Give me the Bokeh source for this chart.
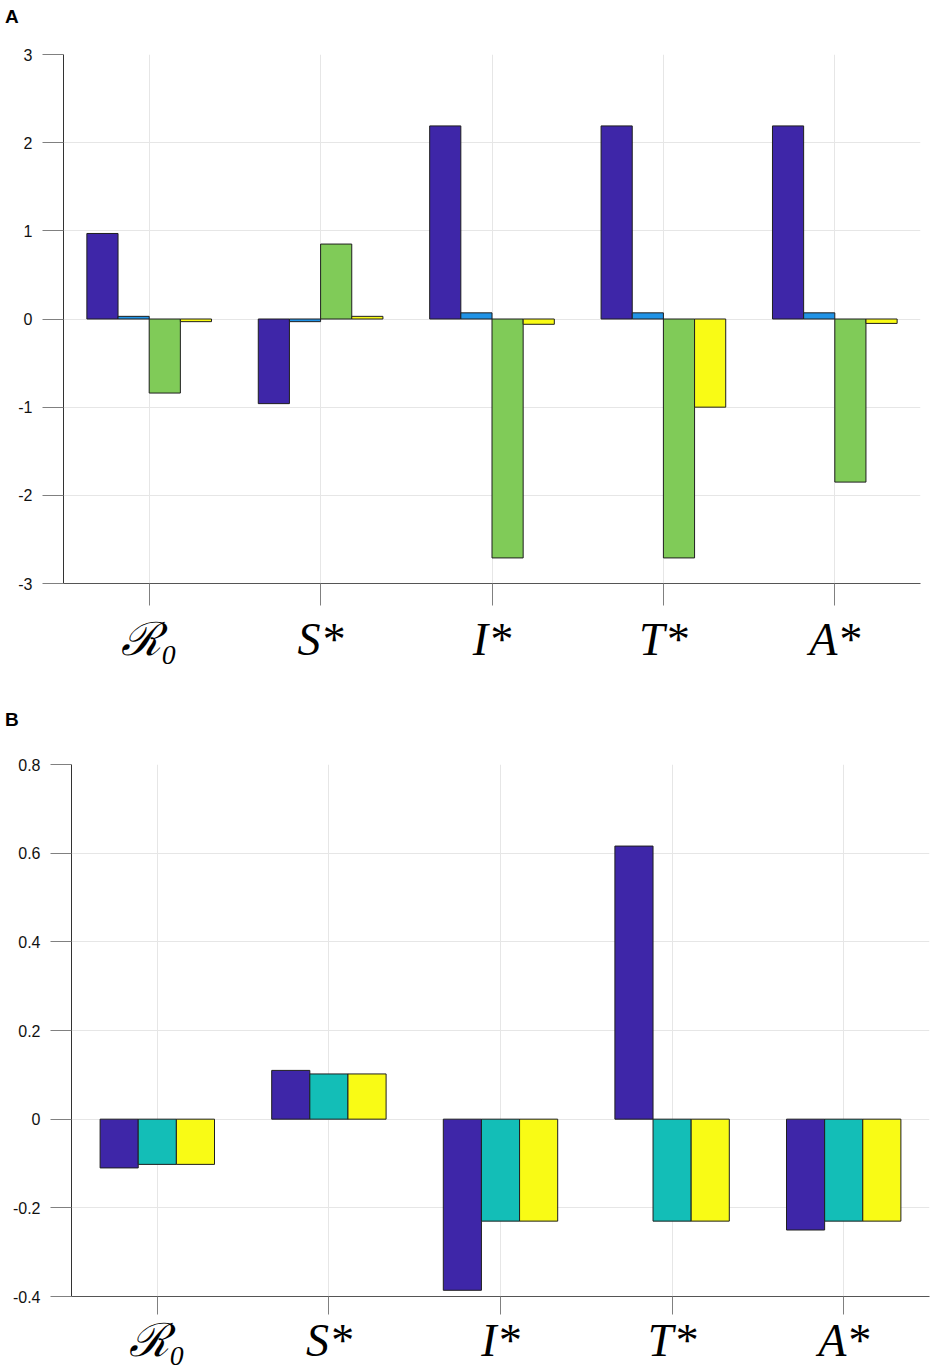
from bokeh.plotting import figure
from bokeh.layouts import column
from bokeh.models import FixedTicker, Range1d, Div
from bokeh.embed import file_html
from bokeh.resources import INLINE

# ---------------- data ----------------
categories = ["ℛ₀", "S*", "I*", "T*", "A*"]

# Panel A (four series)
a_series1 = [0.97, -0.96, 2.19, 2.19, 2.19]
a_series2 = [0.03, -0.03, 0.07, 0.07, 0.07]
a_series3 = [-0.84, 0.85, -2.71, -2.71, -1.85]
a_series4 = [-0.03, 0.03, -0.06, -1.00, -0.05]
a_yticks = [-3, -2, -1, 0, 1, 2, 3]

# Panel B (three series)
b_series1 = [-0.11, 0.11, -0.386, 0.616, -0.25]
b_series2 = [-0.102, 0.102, -0.23, -0.23, -0.23]
b_series3 = [-0.102, 0.102, -0.23, -0.23, -0.23]
b_yticks = [-0.4, -0.2, 0, 0.2, 0.4, 0.6, 0.8]

a_colors = ["#3E26A8", "#2193E6", "#80CB58", "#F9FB15"]
b_colors = ["#3E26A8", "#13BEB7", "#F9FB15"]

FIG_W = 930


def make_panel(series, colors, yticks, height, borders, xfont, xtick_out, xstandoff):
    left, right, top, bottom = borders
    p = figure(width=FIG_W, height=height, output_backend="svg",
               toolbar_location=None, x_range=Range1d(0.5, 5.5),
               y_range=Range1d(yticks[0], yticks[-1]),
               min_border_left=left, min_border_right=right,
               min_border_top=top, min_border_bottom=bottom)
    p.outline_line_color = None
    p.background_fill_color = "white"
    p.border_fill_color = "white"

    n = len(series)
    group_w = min(0.8, n / (n + 1.5))
    bw = group_w / n
    idx = list(range(1, len(categories) + 1))
    for j, (vals, col) in enumerate(zip(series, colors)):
        xs = [i + (j - (n - 1) / 2) * bw for i in idx]
        p.vbar(x=xs, top=vals, bottom=0, width=bw, fill_color=col,
               line_color="#1f1f1f", line_width=1)

    # y axis
    p.yaxis.axis_label = None
    p.yaxis.ticker = FixedTicker(ticks=yticks)
    p.yaxis.major_label_overrides = {t: f"{t:g}" for t in yticks}
    p.yaxis.major_label_text_font = "Liberation Sans"
    p.yaxis.major_label_text_font_size = "16px"
    p.yaxis.major_label_text_color = "#111111"
    p.yaxis.major_label_standoff = 10
    p.yaxis.major_tick_out = 21
    p.yaxis.major_tick_in = 0
    p.yaxis.minor_tick_out = 0
    p.yaxis.minor_tick_in = 0
    p.yaxis.axis_line_color = "#333333"
    p.yaxis.major_tick_line_color = "#808080"

    # x axis
    p.xaxis.axis_label = None
    p.xaxis.ticker = FixedTicker(ticks=idx)
    p.xaxis.major_label_overrides = {i: c for i, c in zip(idx, categories)}
    p.xaxis.major_label_text_font = "Liberation Serif"
    p.xaxis.major_label_text_font_style = "italic"
    p.xaxis.major_label_text_font_size = xfont
    p.xaxis.major_label_text_color = "#000000"
    p.xaxis.major_label_standoff = xstandoff
    p.xaxis.major_tick_out = xtick_out
    p.xaxis.major_tick_in = 0
    p.xaxis.minor_tick_out = 0
    p.xaxis.minor_tick_in = 0
    p.xaxis.axis_line_color = "#555555"
    p.xaxis.major_tick_line_color = "#808080"

    p.xgrid.grid_line_color = "#e6e6e6"
    p.ygrid.grid_line_color = "#e6e6e6"
    return p


def panel_label(text, pad_top):
    html = ('<div style="font-family: \'Liberation Sans\', Arial, sans-serif; '
            'font-weight: bold; font-size: 19px; line-height: 19px; '
            f'padding-top: {pad_top}px; padding-left: 5px; color: #000;">{text}</div>')
    return Div(text=html, width=FIG_W, height=30, margin=0)


divA = panel_label("A", 7)
pA = make_panel([a_series1, a_series2, a_series3, a_series4], a_colors, a_yticks,
                height=670, borders=(63, 10, 24, 117),
                xfont="46px", xtick_out=22, xstandoff=8)

divB = panel_label("B", 10)
pB = make_panel([b_series1, b_series2, b_series3], b_colors, b_yticks,
                height=639, borders=(71, 1, 34, 73),
                xfont="46px", xtick_out=18, xstandoff=0)

layout = column(column(divA, pA, spacing=0), column(divB, pB, spacing=0), spacing=0)
open("out.html", "w").write(file_html(layout, INLINE))
